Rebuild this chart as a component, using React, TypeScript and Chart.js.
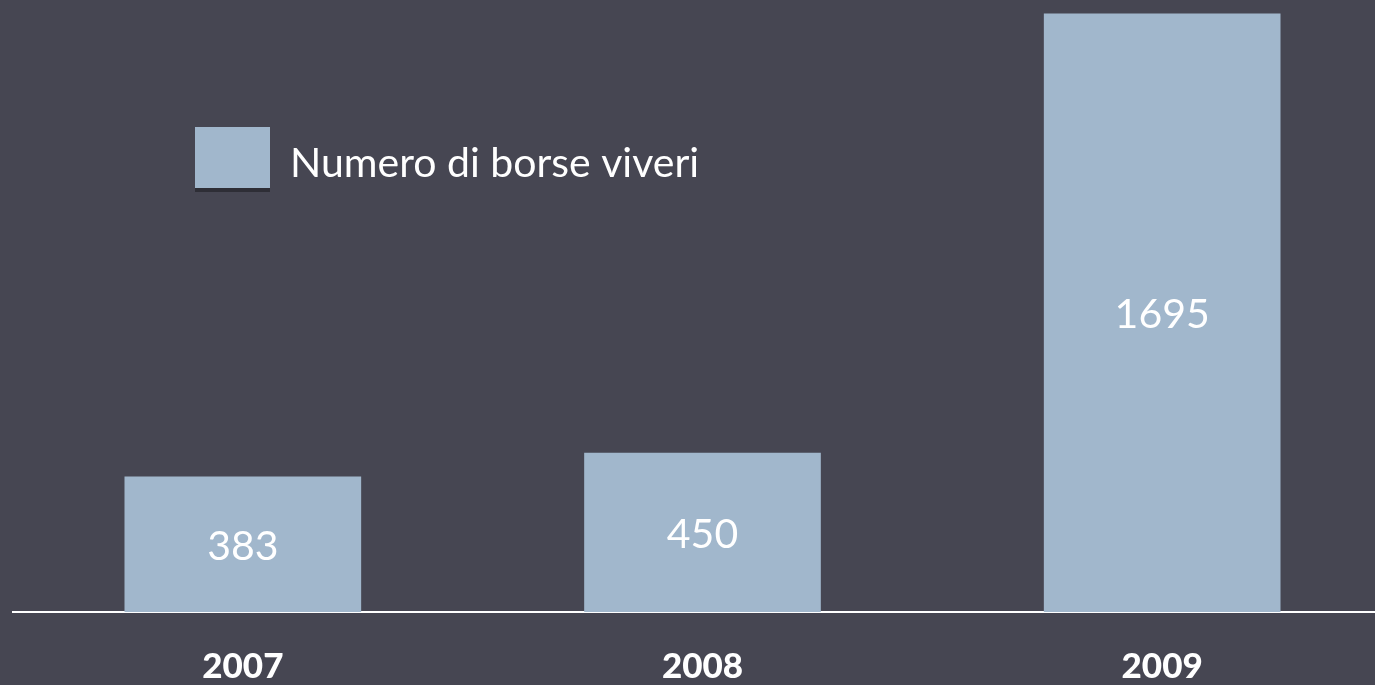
import React, { useEffect, useRef } from "react";
import { Chart, registerables } from "chart.js";

Chart.register(...registerables);

const categories = ["2007", "2008", "2009"];
const seriesName = "Numero di borse viveri";
const seriesValues = [383, 450, 1695];
const yMax = 1700;

const BG = "#464652";
const BAR = "#a1b7cc";

const bgPlugin = {
  id: "bgFill",
  beforeDraw(chart: any) {
    const { ctx, width, height } = chart;
    ctx.save();
    ctx.fillStyle = BG;
    ctx.fillRect(0, 0, width, height);
    ctx.restore();
  },
};

const valueLabels = {
  id: "valueLabels",
  afterDatasetsDraw(chart: any) {
    const { ctx } = chart;
    const meta = chart.getDatasetMeta(0);
    ctx.save();
    ctx.fillStyle = "#ffffff";
    ctx.font = "41px Lato, 'Open Sans', sans-serif";
    ctx.textAlign = "center";
    ctx.textBaseline = "middle";
    meta.data.forEach((bar: any, i: number) => {
      const v = chart.data.datasets[0].data[i];
      const cy = (bar.y + bar.base) / 2 + 2;
      ctx.fillText(String(v), bar.x, cy);
    });
    ctx.restore();
  },
};

const legendPlugin = {
  id: "customLegend",
  afterDraw(chart: any) {
    const { ctx } = chart;
    const ds = chart.data.datasets[0];
    ctx.save();
    ctx.fillStyle = ds.backgroundColor;
    ctx.fillRect(195, 127, 75, 61);
    ctx.fillStyle = "#2e2e36";
    ctx.fillRect(195, 188, 75, 4);
    ctx.fillStyle = "#ffffff";
    ctx.font = "41px Lato, 'Open Sans', sans-serif";
    ctx.textAlign = "left";
    ctx.textBaseline = "middle";
    ctx.fillText(ds.label, 290, 164);
    ctx.restore();
  },
};

export default function App() {
  const ref = useRef<HTMLCanvasElement | null>(null);

  useEffect(() => {
    document.documentElement.style.overflow = "hidden";
    document.body.style.margin = "0";
    document.body.style.overflow = "hidden";
    document.body.style.background = BG;
    if (!ref.current) return;
    const chart = new Chart(ref.current, {
      type: "bar",
      data: {
        labels: categories,
        datasets: [
          {
            label: seriesName,
            data: seriesValues,
            backgroundColor: BAR,
            borderWidth: 0,
            barThickness: 236,
          },
        ],
      },
      options: {
        animation: false,
        responsive: true,
        maintainAspectRatio: false,
        layout: { padding: { left: 13, top: 12, right: 0, bottom: 0 } },
        plugins: {
          legend: { display: false },
          tooltip: { enabled: false },
        },
        scales: {
          x: {
            grid: { display: false, drawTicks: false },
            border: { display: true, color: "#ffffff", width: 2 },
            afterFit(scale: any) {
              scale.height = 73;
            },
            ticks: {
              color: "#ffffff",
              padding: 37,
              font: {
                family: "Lato, 'DejaVu Sans', sans-serif",
                size: 35,
                weight: "900",
                lineHeight: 1,
              },
            },
          },
          y: {
            display: false,
            min: 0,
            max: yMax,
          },
        },
      },
      plugins: [bgPlugin, valueLabels, legendPlugin],
    });
    return () => chart.destroy();
  }, []);

  return (
    <div style={{ position: "relative", width: "1392px", height: "685px" }}>
      <canvas ref={ref} />
    </div>
  );
}
